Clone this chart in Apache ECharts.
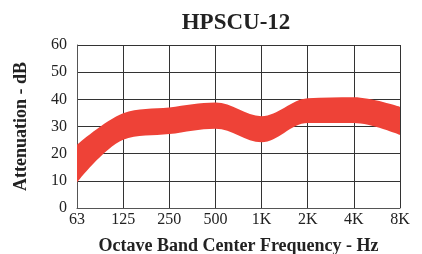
<!DOCTYPE html>
<html>
<head>
<meta charset="utf-8">
<script src="https://cdn.jsdelivr.net/npm/echarts@6/dist/echarts.min.js"></script>
<style>
  html, body { margin: 0; padding: 0; background: #fff; }
  #chart { width: 422px; height: 254px; }
</style>
</head>
<body>
<div id="chart"></div>
<script>
// 频带与衰减上下限（dB）
var bands = ['63', '125', '250', '500', '1K', '2K', '4K', '8K'];
var upper = [23.3, 34.9, 37, 38.8, 33.8, 40.4, 40.8, 37.3];
var lower = [9.4, 25.1, 27.2, 29.2, 24.2, 31.3, 31.3, 26.9];
var yTicks = [0, 10, 20, 30, 40, 50, 60];

var bandWidth = upper.map(function (v, i) { return +(v - lower[i]).toFixed(2); });

var font = '"Liberation Serif", "DejaVu Serif", serif';
var red = '#EE4237';

var chart = echarts.init(document.getElementById('chart'));
chart.setOption({
  animation: false,
  title: {
    text: 'HPSCU-12',
    left: 231, top: 7, textAlign: 'center',
    textStyle: { fontFamily: font, fontSize: 23, fontWeight: 'bold', color: '#222' }
  },
  grid: { left: 77, right: 22, top: 45, bottom: 46, outerBoundsMode: 'none', containLabel: false },
  xAxis: {
    type: 'category',
    data: bands,
    boundaryGap: false,
    name: 'Octave Band Center Frequency - Hz',
    nameLocation: 'middle',
    nameGap: 29,
    nameTextStyle: { fontFamily: font, fontSize: 18, fontWeight: 'bold', color: '#222' },
    axisLine: { lineStyle: { color: '#555', width: 1 } },
    axisTick: { show: false },
    axisLabel: { fontFamily: font, fontSize: 16, color: '#222', margin: 4 },
    splitLine: { show: true, lineStyle: { color: '#333', width: 1 } }
  },
  yAxis: {
    type: 'value',
    min: yTicks[0], max: yTicks[yTicks.length - 1], interval: 10,
    name: 'Attenuation - dB',
    nameLocation: 'middle',
    nameGap: 47,
    nameTextStyle: { fontFamily: font, fontSize: 18, fontWeight: 'bold', color: '#222' },
    axisLine: { show: true, lineStyle: { color: '#555', width: 1 } },
    axisTick: { show: false },
    axisLabel: { fontFamily: font, fontSize: 16, color: '#222', margin: 10 },
    splitLine: { show: true, lineStyle: { color: '#333', width: 1 } }
  },
  series: [
    {
      name: 'lower', type: 'line', stack: 'band', data: lower,
      smooth: 0.35, symbol: 'none',
      lineStyle: { opacity: 0 }, areaStyle: { opacity: 0 }
    },
    {
      name: 'band', type: 'line', stack: 'band', data: bandWidth,
      smooth: 0.35, symbol: 'none',
      lineStyle: { opacity: 0 }, areaStyle: { color: red, opacity: 1 }
    }
  ]
});
</script>
</body>
</html>
